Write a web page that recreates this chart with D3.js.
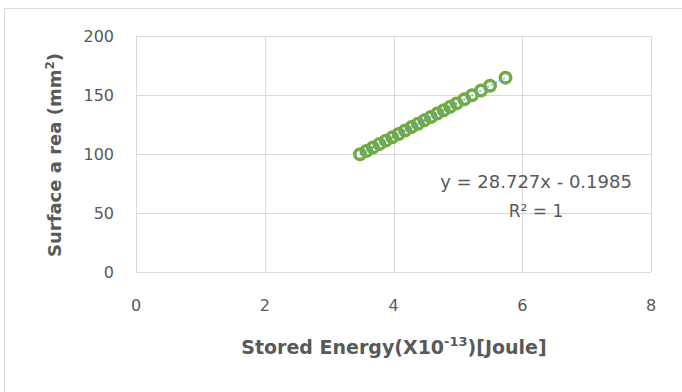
<!DOCTYPE html>
<html>
<head>
<meta charset="utf-8">
<script src="https://cdn.jsdelivr.net/npm/d3@7"></script>
<style>
  body { margin: 0; background: #fff; }
  text { font-family: "DejaVu Sans", sans-serif; fill: #595959; }
</style>
</head>
<body>
<svg id="chart" width="682" height="392"></svg>
<script>
var energy = [3.48, 3.58, 3.68, 3.78, 3.88, 3.98, 4.08, 4.18, 4.28, 4.38, 4.48,
              4.58, 4.68, 4.78, 4.88, 4.98, 5.10, 5.22, 5.36, 5.50, 5.74];
var area = [99.8, 102.6, 105.5, 108.4, 111.3, 114.1, 117.0, 119.9, 122.8, 125.6, 128.5,
            131.4, 134.3, 137.1, 140.0, 142.9, 146.3, 149.8, 153.8, 157.8, 164.7];
var xTicks = [0, 2, 4, 6, 8];
var yTicks = [0, 50, 100, 150, 200];
var slope = 28.727, intercept = -0.1985;

var svg = d3.select("#chart");

// outer chart frame
svg.append("rect")
  .attr("x", 4.5).attr("y", 8.5)
  .attr("width", 700).attr("height", 400)
  .attr("fill", "none")
  .attr("stroke", "#d9d9d9");

var x = d3.scaleLinear().domain([0, 8]).range([136, 651]);
var y = d3.scaleLinear().domain([0, 200]).range([272, 36]);

// gridlines
svg.append("g").selectAll("line.v")
  .data(xTicks).enter().append("line")
  .attr("x1", function(d) { return Math.round(x(d)) + 0.5; })
  .attr("x2", function(d) { return Math.round(x(d)) + 0.5; })
  .attr("y1", y(200)).attr("y2", y(0))
  .attr("stroke", "#d9d9d9");

svg.append("g").selectAll("line.h")
  .data(yTicks).enter().append("line")
  .attr("x1", x(0)).attr("x2", x(8))
  .attr("y1", function(d) { return Math.round(y(d)) + 0.5; })
  .attr("y2", function(d) { return Math.round(y(d)) + 0.5; })
  .attr("stroke", "#d9d9d9");

// tick labels
svg.append("g").selectAll("text")
  .data(xTicks).enter().append("text")
  .attr("x", function(d) { return x(d); })
  .attr("y", 311)
  .attr("text-anchor", "middle")
  .style("font-size", "16px")
  .text(function(d) { return d; });

svg.append("g").selectAll("text")
  .data(yTicks).enter().append("text")
  .attr("x", 114)
  .attr("y", function(d) { return y(d) + 6; })
  .attr("text-anchor", "end")
  .style("font-size", "16px")
  .text(function(d) { return d; });

// markers
svg.append("g").selectAll("circle")
  .data(energy).enter().append("circle")
  .attr("cx", function(d) { return x(d); })
  .attr("cy", function(d, i) { return y(area[i]); })
  .attr("r", 5.25)
  .attr("fill", "none")
  .attr("stroke", "#6fac46")
  .attr("stroke-width", 3.5);

// linear trendline
var x0 = d3.min(energy), x1 = d3.max(energy);
svg.append("line")
  .attr("x1", x(x0)).attr("y1", y(slope * x0 + intercept))
  .attr("x2", x(x1)).attr("y2", y(slope * x1 + intercept))
  .attr("stroke", "#5b9bd5")
  .attr("stroke-width", 1.5)
  .attr("stroke-dasharray", "1.5,3");

// equation label
svg.append("text")
  .attr("x", 536).attr("y", 188)
  .attr("text-anchor", "middle")
  .style("font-size", "18px")
  .text("y = 28.727x - 0.1985");
svg.append("text")
  .attr("x", 536).attr("y", 217)
  .attr("text-anchor", "middle")
  .style("font-size", "17px")
  .text("R² = 1");

// axis titles
var xt = svg.append("text")
  .attr("x", 394).attr("y", 354)
  .attr("text-anchor", "middle")
  .style("font-size", "19px")
  .style("font-weight", "bold");
xt.append("tspan").text("Stored Energy(X10");
xt.append("tspan").attr("dy", -8).style("font-size", "13px").text("-13");
xt.append("tspan").attr("dy", 8).text(")[Joule]");

var yt = svg.append("text")
  .attr("transform", "translate(61,155) rotate(-90)")
  .attr("text-anchor", "middle")
  .style("font-size", "18px")
  .style("font-weight", "bold");
yt.append("tspan").text("Surface a rea (mm");
yt.append("tspan").attr("dy", -7).style("font-size", "12px").text("2");
yt.append("tspan").attr("dy", 7).text(")");
</script>
</body>
</html>
